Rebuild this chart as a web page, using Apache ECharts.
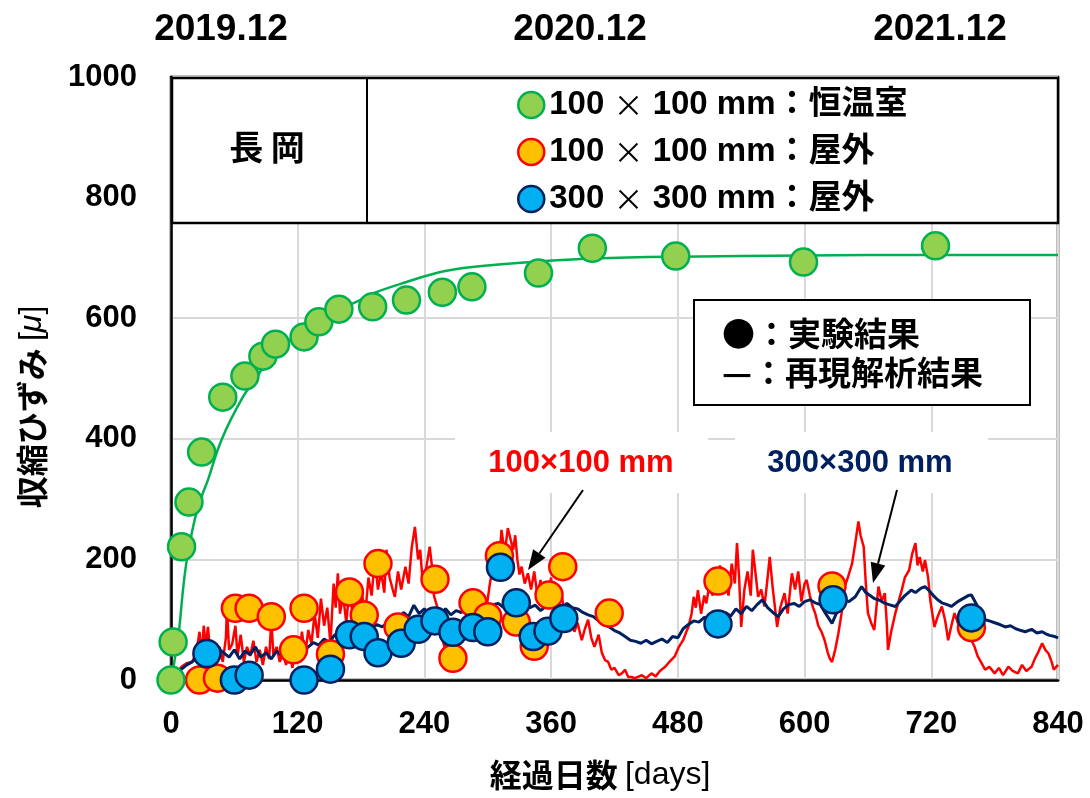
<!DOCTYPE html>
<html>
<head>
<meta charset="utf-8">
<script src="https://cdn.jsdelivr.net/npm/echarts@6/dist/echarts.min.js"></script>
<style>
  html, body { margin: 0; padding: 0; background: #fff; }
  #chart { width: 1090px; height: 798px; }
</style>
</head>
<body>
<div id="chart"></div>
<script>
// ---- data: [elapsed days, shrinkage strain (μ)] ----
const yearLabels = ['2019.12', '2020.12', '2021.12'];
const seriesNames = ['100 × 100 mm：恒温室', '100 × 100 mm：屋外', '300 × 300 mm：屋外'];

// measured, 100x100 specimens in the constant-temperature room
const labMeasured = [
  [0,0],[2,63],[10,221],[17,295],[29,378],[49,469],[70,504],[87,537],[99,557],[126,569],
  [140,594],[159,615],[191,619],[223,630],[257,643],[285,652],[348,675],[399,716],[478,703],
  [599,693],[724,720]
];
// simulated, constant-temperature room
const labSimulated = [
  [0,0],[1,5],[4,40],[7,72],[12,160],[16,210],[23,270],[29,304],[35,332],[48,399],[68,469],
  [82,504],[94,537],[106,557],[119,569],[141,600],[160,615],[179,630],[191,641],[223,660],
  [256,677],[285,685],[347,694],[400,699],[480,702],[600,704],[720,705],[840,705]
];
// measured, 100x100 specimens outdoors
const out100Measured = [
  [27,0],[44,3],[61,119],[74,119],[95,105],[116,50],[126,119],[151,43],[169,146],[183,108],
  [196,193],[215,88],[250,167],[267,36],[286,128],[300,105],[311,206],[327,96],[344,56],
  [358,141],[371,188],[415,111],[518,164],[626,156],[758,87]
];
// measured, 300x300 specimens outdoors
const out300Measured = [
  [34,44],[60,0],[74,8],[126,0],[151,18],[169,75],[183,72],[196,45],[218,61],[234,84],
  [250,98],[267,79],[286,87],[300,80],[312,187],[327,128],[343,72],[357,81],[372,102],
  [518,93],[627,133],[758,103]
];
// simulated, 100x100 outdoors
const out100Simulated = [
  [0,0],[5,12],[10,22],[15,28],[20,30],[24,45],[27,80],[29,40],[31,90],[33,55],[35,88],[37,45],
  [40,60],[43,35],[46,55],[49,30],[52,70],[53,119],[55,50],[58,60],[61,90],[63,40],[66,75],[69,30],
  [72,55],[75,40],[78,65],[81,30],[84,50],[87,25],[90,55],[93,35],[95,100],[97,40],[100,55],[103,30],
  [106,45],[109,25],[112,50],[115,20],[118,60],[121,35],[124,80],[127,40],[130,83],[133,60],[136,110],
  [139,70],[142,135],[145,90],[148,120],[151,60],[154,160],[156,120],[158,177],[160,110],[163,140],
  [166,95],[169,150],[172,110],[175,160],[178,90],[181,140],[184,110],[187,170],[190,140],[193,200],
  [196,150],[199,180],[202,145],[204,216],[207,170],[210,150],[212,138],[215,180],[218,150],[222,188],
  [225,160],[228,220],[231,254],[234,200],[236,216],[238,170],[240,166],[243,200],[245,221],[247,190],
  [249,140],[252,122],[255,80],[259,55],[262,70],[265,45],[267,39],[270,55],[273,70],[275,66],[278,90],
  [280,80],[282,100],[285,85],[288,110],[291,88],[294,105],[296,130],[299,122],[302,160],[305,190],
  [307,216],[310,180],[313,249],[316,210],[319,252],[322,230],[324,216],[326,240],[328,200],[330,175],
  [332,188],[335,160],[338,177],[341,150],[344,180],[347,140],[350,166],[353,120],[355,150],[357,138],
  [360,170],[362,130],[365,150],[367,122],[370,140],[373,110],[376,88],[379,110],[382,80],[385,95],
  [389,66],[392,85],[395,100],[398,70],[401,55],[405,75],[408,45],[411,33],[414,30],[417,17],[420,20],
  [424,8],[427,11],[430,17],[433,5],[436,5],[439,3],[442,5],[446,8],[450,3],[455,11],[459,6],[463,15],
  [468,22],[472,30],[477,39],[481,55],[485,66],[488,80],[490,88],[493,110],[495,138],[497,120],[499,149],
  [502,110],[505,140],[507,127],[510,160],[513,140],[515,177],[518,150],[520,190],[522,160],[525,166],
  [528,140],[531,193],[534,160],[536,227],[538,170],[540,88],[543,150],[546,180],[549,140],[551,216],
  [554,170],[556,138],[559,150],[562,122],[565,170],[567,204],[570,150],[572,120],[574,88],[577,120],
  [581,144],[584,110],[588,177],[591,150],[594,180],[597,130],[600,160],[602,166],[605,140],[608,120],
  [610,111],[613,90],[616,80],[619,66],[622,45],[624,35],[626,30],[629,50],[632,77],[635,110],[638,155],
  [641,170],[645,193],[648,227],[651,263],[653,240],[656,221],[658,160],[660,111],[663,95],[666,83],
  [668,120],[670,155],[673,130],[676,144],[678,90],[679,50],[682,80],[686,111],[689,130],[692,149],
  [695,170],[699,182],[702,210],[705,227],[707,190],[709,204],[712,180],[714,199],[717,170],[719,133],
  [721,110],[723,88],[726,105],[730,122],[733,100],[736,66],[739,90],[742,111],[745,95],[749,83],
  [752,100],[755,80],[758,66],[761,55],[764,39],[767,30],[771,17],[775,22],[780,11],[784,20],[788,8],
  [793,22],[797,15],[802,11],[806,25],[810,15],[815,22],[818,35],[821,45],[825,61],[828,50],[831,44],
  [834,30],[836,17],[840,25]
];
// simulated, 300x300 outdoors
const out300Simulated = [
  [0,0],[5,10],[10,18],[15,25],[20,30],[25,38],[30,42],[35,48],[40,40],[45,52],[50,45],[55,38],
  [60,50],[65,35],[70,48],[75,42],[80,55],[85,38],[90,45],[95,35],[100,48],[105,40],[110,44],[115,36],
  [120,42],[125,45],[130,55],[135,62],[140,58],[145,68],[150,62],[155,75],[160,72],[165,80],[170,78],
  [175,85],[180,82],[185,90],[190,86],[195,92],[200,88],[205,95],[210,100],[215,98],[220,112],[225,105],
  [230,124],[235,110],[240,118],[245,108],[250,115],[255,110],[260,118],[265,108],[270,115],[275,112],
  [280,120],[285,110],[290,116],[295,108],[300,118],[305,125],[310,127],[315,120],[320,130],[325,122],
  [330,135],[335,125],[340,120],[345,124],[350,115],[355,122],[360,121],[365,128],[370,118],[375,127],
  [380,120],[385,118],[390,112],[395,108],[400,105],[405,98],[410,92],[415,88],[420,82],[425,78],
  [430,72],[435,66],[440,64],[445,61],[450,66],[455,60],[460,64],[465,68],[470,62],[475,72],[480,70],
  [485,85],[490,92],[495,98],[500,96],[505,104],[510,100],[515,108],[520,102],[525,112],[530,106],
  [535,118],[540,110],[545,122],[550,115],[555,125],[560,133],[565,120],[570,112],[575,105],[580,118],
  [585,125],[590,127],[595,122],[600,130],[605,133],[610,128],[615,125],[620,110],[626,94],[630,110],
  [635,125],[638,133],[642,130],[648,138],[654,155],[658,145],[662,140],[666,135],[670,133],[675,128],
  [680,125],[686,122],[690,130],[695,140],[701,149],[705,145],[710,152],[714,155],[718,148],[722,140],
  [726,133],[730,128],[735,125],[739,122],[745,130],[750,135],[755,140],[758,141],[762,128],[766,115],
  [771,100],[775,98],[780,95],[785,92],[790,88],[795,90],[800,85],[805,82],[809,80],[815,84],[820,78],
  [825,80],[828,77],[832,74],[837,72],[840,70]
];

// ---- styling ----
const LATIN = '"Liberation Sans", Arial, "Noto Sans CJK JP", sans-serif';
const CJK = '"Noto Sans CJK JP", "Liberation Sans", sans-serif';
const C = {
  greenFill: '#92D050', greenLine: '#00B050',
  orangeFill: '#FFC000', red: '#FF0000',
  blueFill: '#00B0F0', navy: '#002060',
  grid: '#D9D9D9'
};

const chart = echarts.init(document.getElementById('chart'), null, { renderer: 'canvas' });

function arrow(x1, y1, x2, y2) {
  const dx = x2 - x1, dy = y2 - y1, len = Math.hypot(dx, dy);
  const ux = dx / len, uy = dy / len, hl = 20, hw = 7.5;
  const bx = x2 - ux * hl, by = y2 - uy * hl;
  return [
    { type: 'line', z: 5, shape: { x1, y1, x2: bx, y2: by }, style: { stroke: '#000', lineWidth: 2 } },
    { type: 'polygon', z: 5, shape: { points: [[x2, y2], [bx - uy * hw, by + ux * hw], [bx + uy * hw, by - ux * hw]] },
      style: { fill: '#000' } }
  ];
}

const yearX = [221, 580, 940];

const option = {
  backgroundColor: '#fff',
  animation: false,
  grid: { left: 171, right: 32, top: 77, bottom: 118, show: true, borderColor: '#000', borderWidth: 2.5, backgroundColor: 'transparent' },
  xAxis: {
    type: 'value', min: 0, max: 840, interval: 120,
    axisLine: { show: true, lineStyle: { color: '#000', width: 2.5 } },
    axisTick: { show: false },
    axisLabel: { margin: 29, color: '#000', fontSize: 31, fontWeight: 'bold', fontFamily: LATIN, formatter: v => String(v) },
    splitLine: { show: true, lineStyle: { color: C.grid, width: 2 } }
  },
  yAxis: {
    type: 'value', min: 0, max: 1000, interval: 200,
    axisLine: { show: true, lineStyle: { color: '#000', width: 2.5 } },
    axisTick: { show: false },
    axisLabel: { margin: 34, color: '#000', fontSize: 31, fontWeight: 'bold', fontFamily: LATIN, formatter: v => String(v) },
    splitLine: { show: true, lineStyle: { color: C.grid, width: 2 } }
  },
  legend: {
    data: [
      { name: seriesNames[0], itemStyle: { color: C.greenFill, borderColor: C.greenLine, borderWidth: 2.5 } },
      { name: seriesNames[1], itemStyle: { color: C.orangeFill, borderColor: C.red, borderWidth: 2.5 } },
      { name: seriesNames[2], itemStyle: { color: C.blueFill, borderColor: C.navy, borderWidth: 2.5 } }
    ],
    orient: 'vertical', left: 512, top: 80, z: 10,
    icon: 'circle', itemWidth: 26, itemHeight: 26, itemGap: 7,
    selectedMode: false,
    formatter: name => {
      const p = name.split('×');
      return '{n|' + p[0] + '}{x|×}{n|' + p[1] + '}';
    },
    textStyle: {
      lineHeight: 40,
      rich: {
        n: { fontSize: 33, fontWeight: 'bold', fontFamily: LATIN, color: '#000', lineHeight: 40 },
        x: { fontSize: 30, fontWeight: 'normal', fontFamily: CJK, color: '#000', lineHeight: 40 }
      }
    }
  },
  graphic: [
    // year markers along the top
    ...yearLabels.map((t, i) => ({
      type: 'text', x: yearX[i], y: 30, z: 5,
      style: { text: t, fill: '#000', font: 'bold 37px ' + LATIN, align: 'center', verticalAlign: 'middle' }
    })),
    // site / legend table across the top of the plot
    { type: 'rect', z: 3, shape: { x: 172, y: 78, width: 886, height: 145 },
      style: { fill: '#fff', stroke: '#000', lineWidth: 2.5 } },
    { type: 'line', z: 4, shape: { x1: 367, y1: 78, x2: 367, y2: 223 }, style: { stroke: '#000', lineWidth: 2 } },
    { type: 'text', x: 267, y: 147, z: 5,
      style: { text: '長 岡', fill: '#000', font: 'bold 34px ' + CJK, align: 'center', verticalAlign: 'middle' } },
    // key for marks
    { type: 'rect', z: 3, shape: { x: 694, y: 300, width: 336, height: 105 },
      style: { fill: '#fff', stroke: '#000', lineWidth: 2 } },
    { type: 'text', x: 722, y: 333, z: 5,
      style: { text: '●：実験結果', fill: '#000', font: 'bold 33px ' + CJK, align: 'left', verticalAlign: 'middle' } },
    { type: 'text', x: 722, y: 372, z: 5,
      style: { text: '—：再現解析結果', fill: '#000', font: 'bold 33px ' + CJK, align: 'left', verticalAlign: 'middle' } },
    // specimen size callouts
    { type: 'rect', z: 1, shape: { x: 455, y: 432, width: 253, height: 61 }, style: { fill: '#fff' } },
    { type: 'rect', z: 1, shape: { x: 735, y: 432, width: 253, height: 61 }, style: { fill: '#fff' } },
    { type: 'text', x: 581, y: 463, z: 5,
      style: { text: '100×100 mm', fill: C.red, font: 'bold 31px ' + LATIN, align: 'center', verticalAlign: 'middle' } },
    { type: 'text', x: 860, y: 463, z: 5,
      style: { text: '300×300 mm', fill: C.navy, font: 'bold 31px ' + LATIN, align: 'center', verticalAlign: 'middle' } },
    ...arrow(583, 490, 528, 570),
    ...arrow(897, 490, 873, 583),
    // axis titles
    { type: 'text', x: 32, y: 407, z: 5, rotation: Math.PI / 2,
      style: {
        text: '{a|収縮ひずみ }{b|[}{c|μ}{b|]}', align: 'center', verticalAlign: 'middle',
        rich: {
          a: { font: 'bold 32px ' + CJK, fill: '#000' },
          b: { font: '32px ' + LATIN, fill: '#000' },
          c: { font: 'italic 32px ' + LATIN, fill: '#000' }
        }
      } },
    { type: 'text', x: 600, y: 775, z: 5,
      style: {
        text: '{a|経過日数 }{b|[days]}', align: 'center', verticalAlign: 'middle',
        rich: {
          a: { font: 'bold 32px ' + CJK, fill: '#000' },
          b: { font: '32px ' + LATIN, fill: '#000' }
        }
      } }
  ],
  series: [
    { name: seriesNames[1], type: 'scatter', data: out100Measured, symbol: 'circle', symbolSize: 27,
      itemStyle: { color: C.orangeFill, borderColor: C.red, borderWidth: 2.5, opacity: 1 }, z: 2 },
    { name: '100×100 解析', type: 'line', data: out100Simulated, showSymbol: false,
      lineStyle: { color: C.red, width: 2.5 }, z: 2 },
    { name: '300×300 解析', type: 'line', data: out300Simulated, showSymbol: false,
      lineStyle: { color: C.navy, width: 3 }, z: 2 },
    { name: seriesNames[2], type: 'scatter', data: out300Measured, symbol: 'circle', symbolSize: 27,
      itemStyle: { color: C.blueFill, borderColor: C.navy, borderWidth: 2.5, opacity: 1 }, z: 2 },
    { name: '恒温室 解析', type: 'line', data: labSimulated, showSymbol: false, smooth: 0.4,
      lineStyle: { color: C.greenLine, width: 2.5 }, z: 2 },
    { name: seriesNames[0], type: 'scatter', data: labMeasured, symbol: 'circle', symbolSize: 27,
      itemStyle: { color: C.greenFill, borderColor: C.greenLine, borderWidth: 2.5, opacity: 1 }, z: 2 }
  ]
};

chart.setOption(option);
</script>
</body>
</html>
